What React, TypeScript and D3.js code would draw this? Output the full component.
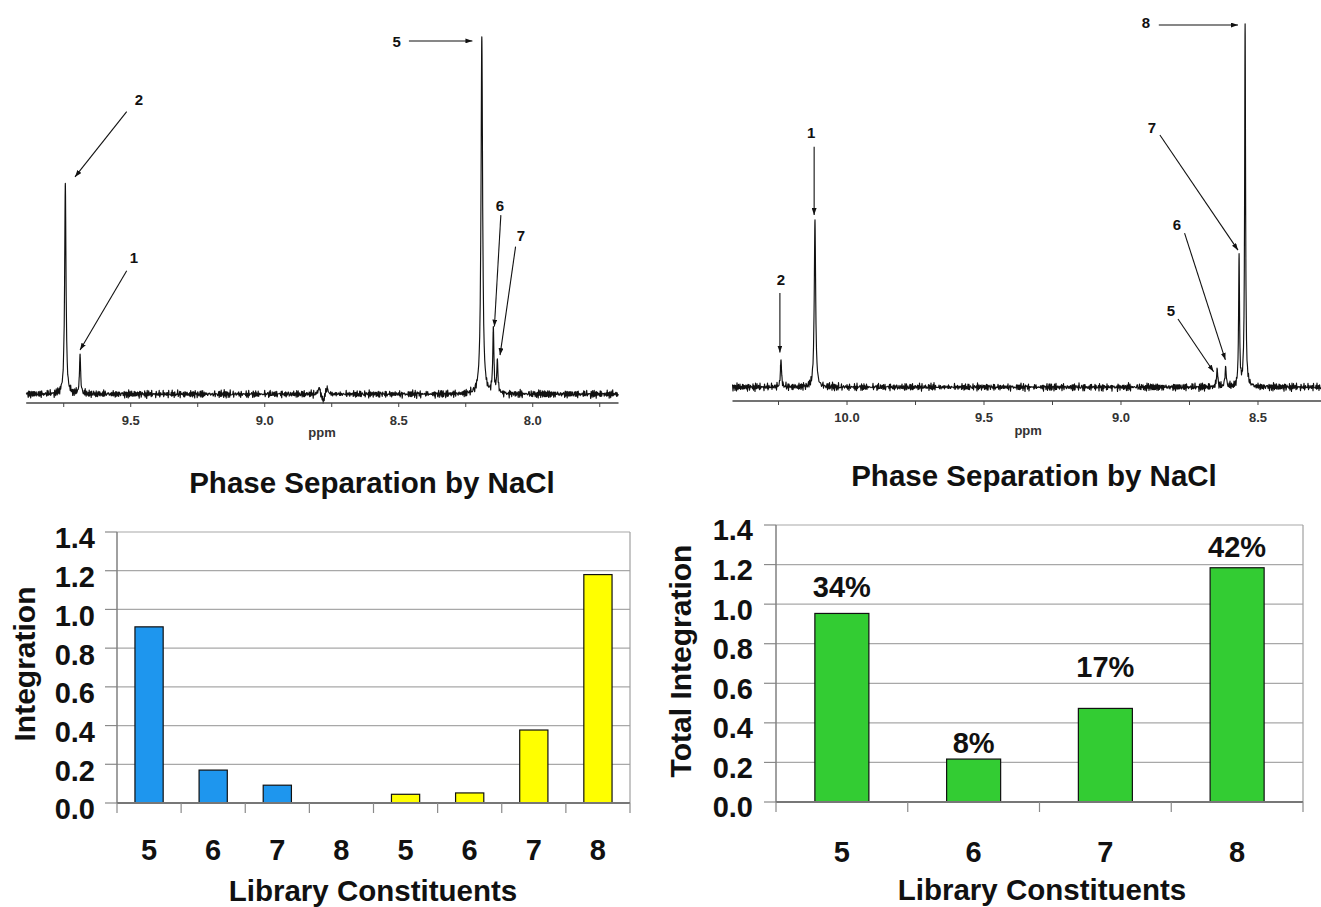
import React from "react";
import * as d3 from "d3";

const FONT = "'Liberation Sans', Arial, Helvetica, sans-serif";

// ---------- NMR spectra: peak lists (ppm, relative intensity, half-width in ppm) ----------
const LEFT_PEAK_PPM = [9.744, 9.689, 8.797, 8.782, 8.767, 8.19, 8.147, 8.132];
const LEFT_PEAK_HEIGHT = [0.59, 0.11, 0.02, -0.022, 0.02, 1.0, 0.18, 0.09];
const LEFT_PEAK_WIDTH = [0.003, 0.0025, 0.004, 0.005, 0.004, 0.0035, 0.0025, 0.0025];

const RIGHT_PEAK_PPM = [10.241, 10.117, 8.649, 8.618, 8.569, 8.547];
const RIGHT_PEAK_HEIGHT = [0.075, 0.46, 0.05, 0.055, 0.36, 1.0];
const RIGHT_PEAK_WIDTH = [0.0025, 0.003, 0.0025, 0.0025, 0.002, 0.002];

// baseline noise (hand-typed values, tiled)
const NOISE_A = [0.6, -0.8, 0.3, -0.2, 0.9, -0.5, 0.1, -0.9, 0.4, 0.7, -0.3, -0.6, 0.8, -0.1, 0.2, -0.7, 0.5, -0.4, 0.0, 0.9, -0.8, 0.3, 0.6, -0.5, -0.2, 0.7, -0.9, 0.1, 0.4, -0.6, 0.8, -0.3, 0.2, -0.7, 0.5, -0.1, 0.0];
const NOISE_B = [-0.4, 0.7, -0.9, 0.2, 0.5, -0.6, 0.8, -0.1, -0.3, 0.9, -0.7, 0.4, 0.1, -0.8, 0.6, -0.2, 0.3, -0.5, 0.7, -0.9, 0.0, 0.5, -0.4, 0.8, -0.6, 0.2, -0.1, 0.9, -0.3];

// annotations: label text, label position (ppm, intensity), arrow start, arrow tip
const LEFT_ANNO_TEXT = ["5", "2", "1", "6", "7"];
const LEFT_ANNO_AT = [[8.508, 0.987], [9.469, 0.824], [9.488, 0.381], [8.122, 0.529], [8.044, 0.445]];
const LEFT_ARROW_FROM = [[8.462, 0.989], [9.515, 0.791], [9.515, 0.345], [8.119, 0.501], [8.064, 0.413]];
const LEFT_ARROW_TO = [[8.225, 0.989], [9.708, 0.608], [9.689, 0.123], [8.143, 0.189], [8.122, 0.109]];

const RIGHT_ANNO_TEXT = ["8", "1", "2", "7", "6", "5"];
const RIGHT_ANNO_AT = [[8.909, 1.006], [10.131, 0.702], [10.241, 0.298], [8.887, 0.716], [8.796, 0.448], [8.818, 0.211]];
const RIGHT_ARROW_FROM = [[8.862, 1.0], [10.12, 0.664], [10.245, 0.26], [8.858, 0.696], [8.768, 0.425], [8.792, 0.188]];
const RIGHT_ARROW_TO = [[8.573, 1.0], [10.12, 0.475], [10.245, 0.095], [8.573, 0.378], [8.619, 0.075], [8.662, 0.042]];

const LEFT_TICKS = [9.75, 9.5, 9.25, 9.0, 8.75, 8.5, 8.25, 8.0, 7.75];
const LEFT_TICK_LABELS = [9.5, 9.0, 8.5, 8.0];
const RIGHT_TICKS = [10.25, 10.0, 9.75, 9.5, 9.25, 9.0, 8.75, 8.5];
const RIGHT_TICK_LABELS = [10.0, 9.5, 9.0, 8.5];

// ---------- bar charts ----------
const Y_TICKS = [0, 0.2, 0.4, 0.6, 0.8, 1.0, 1.2, 1.4];
const BL_CATEGORIES = ["5", "6", "7", "8", "5", "6", "7", "8"];
const BL_VALUES = [0.91, 0.17, 0.092, 0, 0.045, 0.052, 0.377, 1.18];
const BL_PHASE = ["upper", "upper", "upper", "upper", "lower", "lower", "lower", "lower"];
const BR_CATEGORIES = ["5", "6", "7", "8"];
const BR_VALUES = [0.953, 0.217, 0.473, 1.184];
const BR_PERCENT = ["34%", "8%", "17%", "42%"];
const BR_LABEL_GAP = [16, 6, 31, 11];

const PHASE_COLOR: Record<string, string> = { upper: "#1e96ee", lower: "#ffff00" };
const GREEN = "#33cc33";

type SpecProps = {
  ppm: number[]; height: number[]; width: number[];
  xDomain: [number, number]; xRange: [number, number]; yRange: [number, number];
  axisY: number; ticks: number[]; tickLabels: number[]; labelDy: number;
  ppmLabel: [number, number];
  annoText: string[]; annoAt: number[][]; arrowFrom: number[][]; arrowTo: number[][];
  noiseShift: number;
};

function Spectrum(p: SpecProps) {
  const x = d3.scaleLinear().domain(p.xDomain).range(p.xRange);
  const y = d3.scaleLinear().domain([0, 1]).range(p.yRange);
  const amp = 5;
  const f = (q: number) => {
    let v = 0;
    for (let i = 0; i < p.ppm.length; i++) {
      const w = p.width[i];
      const d = q - p.ppm[i];
      v += (p.height[i] * w * w) / (d * d + w * w);
    }
    return v;
  };
  const samples: { px: number; n: number }[] = [];
  let k = 0;
  for (let px = p.xRange[0]; px <= p.xRange[1]; px += 0.5, k++) {
    const n = (NOISE_A[(k + p.noiseShift) % NOISE_A.length] + NOISE_B[(k + 2 * p.noiseShift) % NOISE_B.length]) / 2;
    samples.push({ px, n });
  }
  const offs = [0, 0.1, 0.2, 0.35, 0.55, 0.8];
  p.ppm.forEach((c) => {
    const cx = x(c);
    offs.forEach((o) => {
      samples.push({ px: cx + o, n: 0 });
      if (o > 0) samples.push({ px: cx - o, n: 0 });
    });
  });
  samples.sort((a, b) => a.px - b.px);
  const pts: [number, number][] = samples
    .filter((s) => s.px >= p.xRange[0] && s.px <= p.xRange[1])
    .map((s) => [s.px, y(f(x.invert(s.px))) + s.n * amp]);
  const path = d3.line()(pts) || "";
  const fmt = d3.format(".1f");
  return (
    <g>
      <path d={path} fill="none" stroke="#111" strokeWidth={1.15} strokeLinejoin="round" />
      <line x1={p.xRange[0]} x2={p.xRange[1]} y1={p.axisY} y2={p.axisY} stroke="#444" strokeWidth={1.3} />
      {p.ticks.map((t) => (
        <line key={"t" + t} x1={x(t)} x2={x(t)} y1={p.axisY} y2={p.axisY + 4} stroke="#444" strokeWidth={1} />
      ))}
      {p.tickLabels.map((t) => (
        <text key={"l" + t} x={x(t)} y={p.axisY + p.labelDy} textAnchor="middle" fontSize={13} fontWeight="bold" fill="#333" fontFamily={FONT}>
          {fmt(t)}
        </text>
      ))}
      <text x={x(p.ppmLabel[0])} y={p.ppmLabel[1]} textAnchor="middle" fontSize={13} fontWeight="bold" fill="#333" fontFamily={FONT}>ppm</text>
      {p.annoText.map((s, i) => (
        <g key={"a" + i}>
          <text x={x(p.annoAt[i][0])} y={y(p.annoAt[i][1])} dy="0.36em" textAnchor="middle" fontSize={15} fontWeight="bold" fill="#111" fontFamily={FONT}>{s}</text>
          <line x1={x(p.arrowFrom[i][0])} y1={y(p.arrowFrom[i][1])} x2={x(p.arrowTo[i][0])} y2={y(p.arrowTo[i][1])} stroke="#111" strokeWidth={1.1} markerEnd="url(#arrowHead)" />
        </g>
      ))}
    </g>
  );
}

type BarProps = {
  x0: number; x1: number; yZero: number; yTop: number;
  categories: string[]; values: number[]; fills: string[]; barFrac: number;
  titleX: number; titleY: number; yTitle: string; yTitleX: number; yTitleY: number;
  xTitleX: number; xTitleY: number; catY: number; tickLabelX: number; labelDy: number;
  percents?: string[]; gaps?: number[];
};

function BarChart(p: BarProps) {
  const y = d3.scaleLinear().domain([0, 1.4]).range([p.yZero, p.yTop]);
  const xb = d3.scaleBand<number>().domain(d3.range(p.categories.length)).range([p.x0, p.x1]).padding(0);
  const bw = xb.bandwidth() * p.barFrac;
  const fmt = d3.format(".1f");
  const txt = { fontFamily: FONT, fontWeight: "bold" as const, fill: "#111" };
  return (
    <g>
      <text x={p.titleX} y={p.titleY} textAnchor="middle" fontSize={29.5} {...txt}>Phase Separation by NaCl</text>
      {Y_TICKS.filter((t) => t > 0).map((t) => (
        <line key={"g" + t} x1={p.x0} x2={p.x1} y1={y(t)} y2={y(t)} stroke="#a8a8a8" strokeWidth={1.2} />
      ))}
      <line x1={p.x1} x2={p.x1} y1={y(1.4)} y2={p.yZero} stroke="#a0a0a0" strokeWidth={1.2} />
      {Y_TICKS.map((t) => (
        <line key={"yt" + t} x1={p.x0 - 12} x2={p.x0} y1={y(t)} y2={y(t)} stroke="#8a8a8a" strokeWidth={1.2} />
      ))}
      {p.values.map((v, i) =>
        v > 0 ? (
          <rect key={"b" + i} x={(xb(i) as number) + xb.bandwidth() / 2 - bw / 2} y={y(v)} width={bw} height={p.yZero - y(v)} fill={p.fills[i]} stroke="#111" strokeWidth={1.2} />
        ) : null
      )}
      <line x1={p.x0} x2={p.x0} y1={y(1.4)} y2={p.yZero} stroke="#808080" strokeWidth={1.5} />
      <line x1={p.x0} x2={p.x1} y1={p.yZero} y2={p.yZero} stroke="#777" strokeWidth={2} />
      {d3.range(p.categories.length + 1).map((i) => {
        const xx = p.x0 + i * xb.step();
        return <line key={"xt" + i} x1={xx} x2={xx} y1={p.yZero} y2={p.yZero + 10} stroke="#8a8a8a" strokeWidth={1.2} />;
      })}
      {Y_TICKS.map((t) => (
        <text key={"yl" + t} x={p.tickLabelX} y={y(t) + p.labelDy} dy="0.36em" textAnchor="end" fontSize={29} {...txt}>{fmt(t)}</text>
      ))}
      {p.categories.map((c, i) => (
        <text key={"c" + i} x={(xb(i) as number) + xb.bandwidth() / 2} y={p.catY} textAnchor="middle" fontSize={29} {...txt}>{c}</text>
      ))}
      {p.percents && p.gaps &&
        p.percents.map((s, i) => (
          <text key={"p" + i} x={(xb(i) as number) + xb.bandwidth() / 2} y={y(p.values[i]) - p.gaps![i]} textAnchor="middle" fontSize={29} {...txt}>{s}</text>
        ))}
      <text x={p.xTitleX} y={p.xTitleY} textAnchor="middle" fontSize={29.5} {...txt}>Library Constituents</text>
      <text transform={`translate(${p.yTitleX},${p.yTitleY}) rotate(-90)`} dy="0.36em" textAnchor="middle" fontSize={30} {...txt}>{p.yTitle}</text>
    </g>
  );
}

export default function App() {
  return (
    <svg width={1321} height={907} style={{ position: "absolute", left: 0, top: 0, background: "#fff" }} xmlns="http://www.w3.org/2000/svg">
      <defs>
        <marker id="arrowHead" viewBox="0 0 10 7" refX={10} refY={3.5} markerWidth={7} markerHeight={5} orient="auto" markerUnits="userSpaceOnUse">
          <path d="M0,0 L10,3.5 L0,7 z" fill="#111" />
        </marker>
      </defs>
      <rect x={0} y={0} width={1321} height={907} fill="#fff" />
      <Spectrum
        ppm={LEFT_PEAK_PPM} height={LEFT_PEAK_HEIGHT} width={LEFT_PEAK_WIDTH}
        xDomain={[9.89, 7.68]} xRange={[26.2, 618.5]} yRange={[394, 37]}
        axisY={403} ticks={LEFT_TICKS} tickLabels={LEFT_TICK_LABELS} labelDy={22}
        ppmLabel={[8.786, 437]}
        annoText={LEFT_ANNO_TEXT} annoAt={LEFT_ANNO_AT} arrowFrom={LEFT_ARROW_FROM} arrowTo={LEFT_ARROW_TO}
        noiseShift={0}
      />
      <Spectrum
        ppm={RIGHT_PEAK_PPM} height={RIGHT_PEAK_HEIGHT} width={RIGHT_PEAK_WIDTH}
        xDomain={[10.418, 8.27]} xRange={[732.5, 1321]} yRange={[387, 25]}
        axisY={401} ticks={RIGHT_TICKS} tickLabels={RIGHT_TICK_LABELS} labelDy={21}
        ppmLabel={[9.339, 435]}
        annoText={RIGHT_ANNO_TEXT} annoAt={RIGHT_ANNO_AT} arrowFrom={RIGHT_ARROW_FROM} arrowTo={RIGHT_ARROW_TO}
        noiseShift={11}
      />
      <BarChart
        x0={117} x1={630} yZero={803} yTop={532}
        categories={BL_CATEGORIES} values={BL_VALUES} fills={BL_PHASE.map((ph) => PHASE_COLOR[ph])} barFrac={0.44}
        titleX={372} titleY={493} yTitle="Integration" yTitleX={24} yTitleY={664}
        xTitleX={373} xTitleY={901} catY={860} tickLabelX={95} labelDy={6}
      />
      <BarChart
        x0={776} x1={1303} yZero={802} yTop={525}
        categories={BR_CATEGORIES} values={BR_VALUES} fills={BR_CATEGORIES.map(() => GREEN)} barFrac={0.41}
        titleX={1034} titleY={486} yTitle="Total Integration" yTitleX={680} yTitleY={661}
        xTitleX={1042} xTitleY={900} catY={862} tickLabelX={753} labelDy={5}
        percents={BR_PERCENT} gaps={BR_LABEL_GAP}
      />
    </svg>
  );
}
